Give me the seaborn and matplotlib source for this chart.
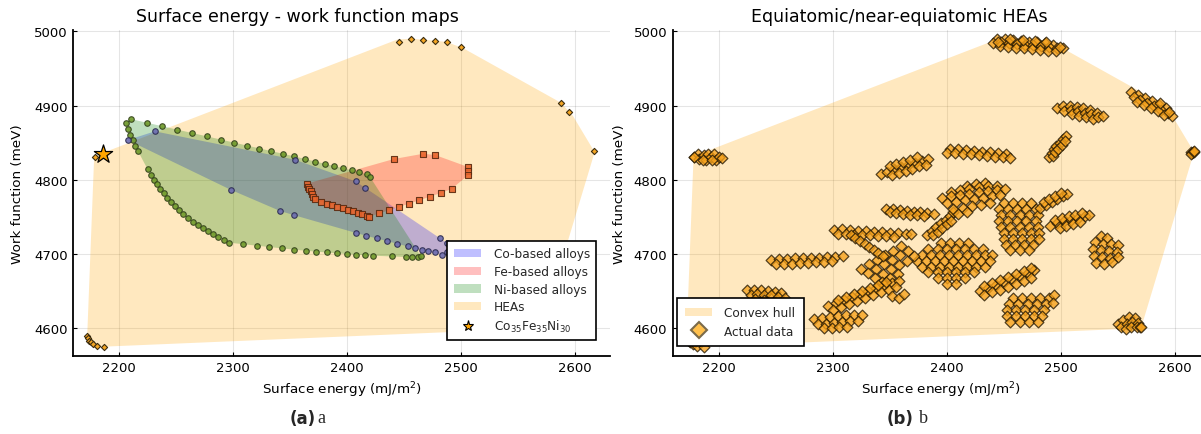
import numpy as np
import pandas as pd
import matplotlib
matplotlib.use("Agg")
import matplotlib.pyplot as plt
import seaborn as sns
from matplotlib.patches import Patch
from matplotlib.lines import Line2D

# ---------------- data: panel (a) ----------------
co_x = [2207.4, 2231.3, 2354.1, 2297.7, 2341.2, 2352.9, 2407.3, 2415.7, 2407.4, 2416.6, 2425.7,
        2434.8, 2443.8, 2452.9, 2459.2, 2465.2, 2471.0, 2476.9, 2482.7, 2487.1, 2481.4, 2487.1]
co_y = [4853.5, 4865.2, 4827.0, 4786.5, 4757.8, 4752.4, 4797.8, 4788.4, 4728.4, 4724.5, 4721.0,
        4717.4, 4714.0, 4710.4, 4708.4, 4705.3, 4703.5, 4702.2, 4699.2, 4703.0, 4721.0, 4714.7]

ni_x = [2205.6, 2210.0, 2207.4, 2209.4, 2211.8, 2214.0, 2216.4, 2224.0, 2237.7, 2250.9, 2264.0,
        2276.7, 2288.9, 2300.6, 2312.0, 2322.8, 2333.3, 2343.8, 2353.5, 2362.9, 2371.9, 2380.4,
        2388.6, 2396.4, 2403.8, 2410.5, 2417.5, 2419.9,
        2224.9, 2227.5, 2230.2, 2232.8, 2235.7, 2238.9, 2241.8, 2245.3, 2248.8, 2252.6, 2256.3,
        2260.3, 2264.4, 2268.8, 2273.1, 2277.8, 2282.2, 2286.8, 2291.6, 2296.5, 2308.5, 2320.5,
        2331.5, 2342.7, 2353.5, 2363.5, 2372.8, 2382.2, 2391.2, 2399.7, 2407.6, 2415.2, 2422.8,
        2438.9, 2451.7, 2456.7, 2461.7, 2464.6]
ni_y = [4876.4, 4881.8, 4868.3, 4860.6, 4853.9, 4845.8, 4838.7, 4876.8, 4872.0, 4867.4, 4862.5,
        4858.5, 4853.9, 4849.9, 4845.8, 4841.8, 4838.3, 4834.6, 4831.5, 4827.9, 4824.3, 4821.1,
        4818.2, 4815.4, 4812.7, 4810.0, 4807.3, 4804.0,
        4814.0, 4806.7, 4800.0, 4793.8, 4787.5, 4781.7, 4775.7, 4770.0, 4764.6, 4759.2, 4754.0,
        4748.4, 4743.4, 4738.9, 4734.5, 4730.5, 4726.8, 4722.8, 4718.7, 4715.1, 4713.4, 4711.1,
        4709.3, 4707.6, 4705.7, 4704.3, 4703.0, 4702.2, 4701.2, 4699.9, 4698.9, 4698.5, 4697.6,
        4696.8, 4695.8, 4695.8, 4695.8, 4696.8]

fe_x = [2364.3, 2365.5, 2366.6, 2367.9, 2369.0, 2370.1, 2371.6, 2377.2, 2381.9, 2386.5, 2391.2,
        2395.9, 2400.3, 2404.7, 2409.1, 2413.1, 2417.5, 2419.3, 2427.5, 2436.3, 2445.3, 2454.1,
        2463.1, 2472.5, 2482.1, 2491.5, 2506.1, 2506.1, 2506.1, 2477.1, 2466.6, 2440.9]
fe_y = [4794.6, 4790.6, 4787.5, 4784.4, 4780.7, 4777.1, 4773.6, 4770.4, 4767.7, 4765.9, 4763.6,
        4761.5, 4759.6, 4757.4, 4755.1, 4753.4, 4751.1, 4750.1, 4754.7, 4759.2, 4763.2, 4767.7,
        4772.2, 4777.1, 4782.1, 4787.5, 4817.1, 4811.7, 4806.3, 4833.3, 4835.0, 4827.9]

hea_x = [2445.4, 2455.9, 2466.7, 2477.2, 2487.4, 2499.4, 2587.4, 2594.7, 2616.6, 2171.9, 2172.8,
         2173.7, 2174.9, 2177.2, 2180.7, 2186.8, 2178.7, 2570.8]
hea_y = [4986.0, 4990.0, 4988.7, 4987.3, 4985.6, 4978.4, 4903.8, 4891.6, 4838.3, 4589.8, 4586.3,
         4583.0, 4580.9, 4578.6, 4576.3, 4575.0, 4831.0, 4601.4]

star_x = [2185.4]
star_y = [4835.0]

# ---------------- data: panel (b), clusters of equiatomic HEAs ----------------
eq_left = [(2178, 4831), (2182, 4834), (2183, 4828), (2187, 4833), (2189, 4827), (2191, 4835),
           (2193, 4830), (2196, 4834), (2198, 4827), (2200, 4831), (2203, 4829), (2186, 4826),
           (2194, 4826)]
eq_top = [(2444, 4989), (2451, 4989), (2458, 4988), (2465, 4987), (2472, 4986), (2479, 4985),
          (2486, 4984), (2493, 4982), (2441, 4984), (2448, 4985), (2455, 4984), (2462, 4983),
          (2469, 4982), (2476, 4981), (2483, 4980), (2490, 4979), (2497, 4978), (2502, 4977),
          (2447, 4980), (2454, 4979), (2461, 4978), (2468, 4977), (2475, 4976), (2482, 4975),
          (2489, 4974), (2496, 4973)]
eq_ne = [(2562, 4918), (2568, 4914), (2574, 4910), (2580, 4906), (2586, 4901), (2592, 4896),
         (2564, 4911), (2570, 4907), (2576, 4903), (2582, 4899), (2588, 4894), (2594, 4890),
         (2598, 4886), (2567, 4905), (2573, 4901), (2579, 4897), (2585, 4892), (2591, 4887)]
eq_far = [(2614, 4837), (2615, 4836), (2616, 4838), (2614, 4835), (2617, 4837)]
eq_oval = [(2497, 4897), (2502, 4899), (2503, 4893), (2508, 4900), (2509, 4894), (2510, 4888),
           (2514, 4898), (2515, 4892), (2516, 4886), (2520, 4896), (2521, 4890), (2522, 4884),
           (2526, 4894), (2527, 4888), (2528, 4882), (2532, 4890), (2533, 4885), (2537, 4886)]
eq_arc = [(2490, 4831), (2492, 4836), (2494, 4841), (2496, 4845), (2499, 4850), (2502, 4855),
          (2505, 4859), (2493, 4832), (2495, 4837), (2498, 4842), (2501, 4847), (2504, 4852)]
eq_b84 = [(2403, 4841), (2410, 4841), (2417, 4840), (2424, 4839), (2431, 4838), (2438, 4837),
          (2445, 4836), (2452, 4834), (2400, 4836), (2407, 4836), (2414, 4835), (2421, 4834),
          (2428, 4833), (2435, 4832), (2442, 4831), (2449, 4830), (2456, 4829)]
eq_tilt = [(2342, 4808), (2348, 4811), (2354, 4814), (2360, 4817), (2366, 4820), (2372, 4823),
           (2378, 4825), (2384, 4828), (2350, 4818), (2356, 4821), (2362, 4824), (2368, 4827),
           (2374, 4830), (2352, 4806), (2358, 4809), (2364, 4812), (2370, 4815), (2376, 4818),
           (2382, 4820)]
eq_b76 = [(2347, 4761), (2353, 4760), (2359, 4759), (2365, 4758), (2371, 4757), (2377, 4756),
          (2383, 4755), (2389, 4754), (2350, 4756), (2356, 4755), (2362, 4754), (2368, 4753),
          (2374, 4752), (2380, 4751)]
eq_diag = [(2383, 4726), (2387, 4731), (2391, 4736), (2395, 4741), (2399, 4746), (2403, 4751),
           (2406, 4756), (2388, 4725), (2392, 4730), (2396, 4735), (2400, 4740), (2404, 4745)]
eq_big = [(2418, 4792), (2426, 4794), (2434, 4795),
          (2404, 4784), (2412, 4786), (2420, 4788), (2428, 4790), (2436, 4791), (2444, 4792),
          (2396, 4776), (2404, 4778), (2412, 4780), (2420, 4781), (2428, 4783), (2436, 4785),
          (2444, 4786), (2451, 4788),
          (2400, 4768), (2408, 4770), (2416, 4772), (2424, 4774), (2432, 4776), (2440, 4778),
          (2447, 4780),
          (2406, 4760), (2414, 4762), (2422, 4764), (2430, 4766), (2438, 4769),
          (2410, 4754), (2418, 4756)]
eq_blob = [(2450, 4768), (2458, 4768), (2466, 4768), (2474, 4768),
           (2446, 4760), (2454, 4760), (2462, 4760), (2470, 4760), (2478, 4760),
           (2448, 4752), (2456, 4752), (2464, 4752), (2472, 4752), (2480, 4752),
           (2446, 4744), (2454, 4744), (2462, 4744), (2470, 4744), (2478, 4744),
           (2448, 4736), (2456, 4736), (2464, 4736), (2472, 4736), (2480, 4736),
           (2450, 4728), (2458, 4728), (2466, 4728), (2474, 4728), (2481, 4728),
           (2450, 4720), (2458, 4720), (2466, 4720), (2474, 4720), (2481, 4720),
           (2452, 4712), (2460, 4712), (2468, 4712), (2476, 4712),
           (2456, 4705), (2464, 4705), (2472, 4705),
           (2482, 4762), (2487, 4766), (2492, 4770), (2497, 4774), (2502, 4778), (2506, 4781),
           (2485, 4770), (2490, 4774), (2495, 4778), (2500, 4782)]
eq_b74 = [(2491, 4738), (2497, 4741), (2503, 4744), (2509, 4746), (2515, 4749), (2521, 4751),
          (2525, 4753), (2495, 4746), (2501, 4749), (2507, 4751), (2513, 4753), (2519, 4755),
          (2499, 4735), (2505, 4738), (2511, 4740), (2517, 4743)]
eq_sq = [(2535, 4724), (2541, 4722), (2530, 4716), (2537, 4714), (2544, 4713), (2550, 4712),
         (2528, 4706), (2535, 4705), (2542, 4704), (2549, 4703), (2529, 4697), (2536, 4696),
         (2543, 4695), (2550, 4696), (2531, 4688), (2538, 4687), (2545, 4689)]
eq_sm = [(2550, 4606), (2555, 4611), (2560, 4615), (2565, 4613), (2553, 4601), (2558, 4605),
         (2563, 4608), (2568, 4607), (2557, 4599), (2562, 4602), (2567, 4602), (2570, 4601)]
eq_low = [(2458, 4640), (2466, 4640), (2474, 4640), (2482, 4640), (2490, 4641), (2494, 4645),
          (2455, 4632), (2463, 4632), (2471, 4632), (2479, 4632), (2487, 4632), (2493, 4634),
          (2453, 4624), (2461, 4624), (2469, 4624), (2477, 4624), (2485, 4624),
          (2453, 4616), (2461, 4616), (2469, 4616), (2477, 4616), (2484, 4616),
          (2456, 4608), (2464, 4608), (2472, 4608), (2480, 4608)]
eq_mid = [(2429, 4650), (2436, 4654), (2443, 4658), (2450, 4662), (2457, 4666), (2464, 4670),
          (2471, 4674), (2477, 4678), (2433, 4657), (2440, 4661), (2447, 4665), (2454, 4669),
          (2461, 4673), (2468, 4677), (2474, 4681), (2433, 4644), (2440, 4648), (2447, 4652),
          (2454, 4656), (2461, 4660), (2468, 4664), (2474, 4668)]
eq_b73 = [(2301, 4732), (2308, 4733), (2315, 4732), (2322, 4731), (2329, 4731), (2336, 4730),
          (2343, 4729), (2350, 4728), (2357, 4728), (2364, 4727), (2369, 4727), (2305, 4727),
          (2312, 4727), (2319, 4726), (2326, 4726), (2333, 4725), (2340, 4724), (2347, 4724),
          (2354, 4723)]
eq_b69 = [(2246, 4692), (2253, 4693), (2260, 4693), (2267, 4694), (2274, 4694), (2281, 4695),
          (2288, 4695), (2295, 4696), (2302, 4696), (2309, 4697), (2250, 4686), (2257, 4687),
          (2264, 4687), (2271, 4688), (2278, 4688), (2285, 4689), (2292, 4689), (2299, 4690)]
eq_b65 = [(2225, 4651), (2231, 4652), (2237, 4651), (2243, 4650), (2249, 4649), (2255, 4647),
          (2228, 4645), (2234, 4646), (2240, 4645), (2246, 4644), (2252, 4642), (2258, 4641),
          (2232, 4639), (2240, 4638)]
eq_core = [(2395, 4715), (2403, 4715), (2411, 4715), (2419, 4715),
           (2384, 4707), (2392, 4707), (2400, 4707), (2408, 4707), (2416, 4707), (2424, 4707),
           (2432, 4707),
           (2378, 4699), (2386, 4699), (2394, 4699), (2402, 4699), (2410, 4699), (2418, 4699),
           (2426, 4699), (2434, 4699), (2440, 4699),
           (2374, 4691), (2382, 4691), (2390, 4691), (2398, 4691), (2406, 4691), (2414, 4691),
           (2422, 4691), (2430, 4691), (2438, 4691),
           (2378, 4683), (2386, 4683), (2394, 4683), (2402, 4683), (2410, 4683), (2418, 4683),
           (2426, 4683), (2434, 4683),
           (2384, 4675), (2392, 4675), (2400, 4675), (2408, 4675), (2416, 4675), (2424, 4675),
           (2392, 4667), (2400, 4667), (2408, 4667), (2416, 4667),
           (2400, 4659), (2408, 4659)]
eq_arm = [(2325, 4680), (2332, 4686), (2339, 4692), (2346, 4698), (2353, 4704), (2360, 4710),
          (2331, 4674), (2338, 4680), (2345, 4686), (2352, 4692), (2359, 4698), (2366, 4704),
          (2337, 4667), (2344, 4673), (2351, 4679), (2358, 4685), (2365, 4691), (2371, 4697),
          (2343, 4662), (2350, 4667), (2357, 4673)]
eq_stem = [(2316, 4725), (2320, 4721), (2324, 4717), (2328, 4713), (2332, 4709), (2336, 4705),
           (2340, 4701), (2344, 4697)]
eq_long = [(2296, 4630), (2303, 4634), (2310, 4638), (2317, 4642), (2324, 4646), (2331, 4650),
           (2338, 4654), (2345, 4658), (2352, 4661), (2358, 4664),
           (2300, 4624), (2307, 4628), (2314, 4632), (2321, 4636), (2328, 4640), (2335, 4644),
           (2342, 4648), (2349, 4652), (2356, 4655),
           (2305, 4638), (2312, 4642), (2319, 4646), (2326, 4650), (2333, 4654), (2340, 4658),
           (2347, 4662)]
eq_base = [(2284, 4612), (2291, 4614), (2298, 4615), (2305, 4616), (2312, 4617), (2319, 4617),
           (2326, 4617), (2287, 4605), (2294, 4606), (2301, 4607), (2308, 4608), (2315, 4609),
           (2322, 4609), (2292, 4600), (2299, 4600), (2306, 4601), (2313, 4602)]
eq_light = [(2352, 4643), (2358, 4641), (2363, 4646)]

eq_clusters = [eq_left, eq_top, eq_ne, eq_far, eq_oval, eq_arc, eq_b84, eq_tilt, eq_b76, eq_diag,
               eq_big, eq_blob, eq_b74, eq_sq, eq_sm, eq_low, eq_mid, eq_b73, eq_b69, eq_b65,
               eq_core, eq_arm, eq_stem, eq_long, eq_base, eq_light]

# ---------------- helpers ----------------
def convex_hull(xs, ys):
    pts = sorted(set(zip(xs, ys)))
    def cross(o, a, b):
        return (a[0] - o[0]) * (b[1] - o[1]) - (a[1] - o[1]) * (b[0] - o[0])
    lower, upper = [], []
    for p in pts:
        while len(lower) >= 2 and cross(lower[-2], lower[-1], p) <= 0:
            lower.pop()
        lower.append(p)
    for p in reversed(pts):
        while len(upper) >= 2 and cross(upper[-2], upper[-1], p) <= 0:
            upper.pop()
        upper.append(p)
    h = np.array(lower[:-1] + upper[:-1])
    return h[:, 0], h[:, 1]

eq_x = [p[0] for c in eq_clusters for p in c] + hea_x
eq_y = [p[1] for c in eq_clusters for p in c] + hea_y
eq_df = pd.DataFrame({"x": eq_x, "y": eq_y})

hull_x, hull_y = convex_hull(eq_x, eq_y)
co_hx, co_hy = convex_hull(co_x, co_y)
fe_hx, fe_hy = convex_hull(fe_x, fe_y)
ni_hx, ni_hy = convex_hull(ni_x, ni_y)

# ---------------- style ----------------
sns.set_theme(style="white")
plt.rcParams["font.family"] = ["DejaVu Sans"]
plt.rcParams["mathtext.fontset"] = "dejavusans"

W, H = 1201, 435
fig = plt.figure(figsize=(W / 100, H / 100), dpi=100)
axL = fig.add_axes([73.3 / W, 1 - 356.7 / H, 536.6 / W, 325.7 / H])
axR = fig.add_axes([672.7 / W, 1 - 356.7 / H, 536.6 / W, 325.7 / H])

ORANGE = "#FFA500"

def style(ax, ylab_x):
    ax.set_xlim(2159.7, 2630.4)
    ax.set_ylim(4562.8, 5001.8)
    ax.set_xticks([2200, 2300, 2400, 2500, 2600])
    ax.set_yticks([4600, 4700, 4800, 4900, 5000])
    ax.grid(True, color="black", alpha=0.1, lw=0.8)
    ax.set_axisbelow(True)
    for s in ["top", "right"]:
        ax.spines[s].set_visible(False)
    for s in ["left", "bottom"]:
        ax.spines[s].set_color("black")
        ax.spines[s].set_linewidth(1.3)
    ax.tick_params(direction="in", length=3, width=0.8, labelsize=9.5, pad=4,
                   colors="black", left=True, bottom=True)
    ax.set_xlabel("Surface energy (mJ/m$^2$)", fontsize=9.7, color="black")
    ax.xaxis.set_label_coords(0.5, -0.072)
    ax.set_ylabel("Work function (meV)", fontsize=9.7, color="black")
    ax.yaxis.set_label_coords(ylab_x, 0.5)

# ---------------- panel (a) ----------------
axL.fill(hull_x, hull_y, color=ORANGE, alpha=0.25, lw=0, zorder=1)
axL.fill(co_hx, co_hy, color="blue", alpha=0.25, lw=0, zorder=1.1)
axL.fill(fe_hx, fe_hy, color="red", alpha=0.25, lw=0, zorder=1.2)
axL.fill(ni_hx, ni_hy, color="green", alpha=0.25, lw=0, zorder=1.3)

sns.scatterplot(x=hea_x, y=hea_y, ax=axL, marker="D", s=10, color="#F5A623",
                edgecolor="#3a2c10", linewidth=0.8, zorder=3, legend=False)
sns.scatterplot(x=ni_x, y=ni_y, ax=axL, marker="o", s=16, color="#6F9A2A",
                edgecolor="#34421c", linewidth=0.8, alpha=0.9, zorder=3, legend=False)
sns.scatterplot(x=co_x, y=co_y, ax=axL, marker="o", s=16, color="#6B6BB0",
                edgecolor="#2c2c50", linewidth=0.8, alpha=0.9, zorder=3.1, legend=False)
sns.scatterplot(x=fe_x, y=fe_y, ax=axL, marker="s", s=15, color="#E8642C",
                edgecolor="#5a2a10", linewidth=0.8, alpha=0.9, zorder=3.2, legend=False)
sns.scatterplot(x=star_x, y=star_y, ax=axL, marker="*", s=190, color=ORANGE,
                edgecolor="black", linewidth=0.9, zorder=4, legend=False)

style(axL, -0.091)

hL = [Patch(facecolor="blue", alpha=0.25, edgecolor="none", label="Co-based alloys"),
      Patch(facecolor="red", alpha=0.25, edgecolor="none", label="Fe-based alloys"),
      Patch(facecolor="green", alpha=0.25, edgecolor="none", label="Ni-based alloys"),
      Patch(facecolor=ORANGE, alpha=0.25, edgecolor="none", label="HEAs"),
      Line2D([], [], ls="none", marker="*", markersize=8, mfc=ORANGE, mec="black", mew=0.8,
             label="Co$_{35}$Fe$_{35}$Ni$_{30}$")]
legL = axL.legend(handles=hL, loc="upper left", bbox_to_anchor=(0.6965, 0.353),
                  fontsize=8.7, frameon=True, fancybox=False, framealpha=1,
                  borderpad=0.55, labelspacing=0.38, handlelength=2.3, handletextpad=1.0,
                  borderaxespad=0)
legL.get_frame().set_edgecolor("black")
legL.get_frame().set_linewidth(1.2)
legL.set_zorder(10)

# ---------------- panel (b) ----------------
axR.fill(hull_x, hull_y, color=ORANGE, alpha=0.25, lw=0, zorder=1)
sns.scatterplot(data=eq_df, x="x", y="y", ax=axR, marker="D", s=30, color="#F7A21B",
                edgecolor="#241803", linewidth=0.9, alpha=0.78, zorder=3, legend=False)
style(axR, -0.087)

hR = [Patch(facecolor=ORANGE, alpha=0.25, edgecolor="none", label="Convex hull"),
      Line2D([], [], ls="none", marker="D", markersize=8, mfc="#FFC04D", mec="#7a6a4a",
             mew=1.5, label="Actual data")]
legR = axR.legend(handles=hR, loc="upper left", bbox_to_anchor=(0.008, 0.178),
                  fontsize=8.7, frameon=True, fancybox=False, framealpha=1,
                  borderpad=0.7, labelspacing=0.45, handlelength=2.2, handletextpad=1.0,
                  borderaxespad=0)
legR.get_frame().set_edgecolor("black")
legR.get_frame().set_linewidth(1.2)
legR.set_zorder(10)

# ---------------- titles and captions ----------------
fig.text(297 / W, 1 - 17 / H, "Surface energy - work function maps", ha="center", va="center",
         fontsize=12.5, color="black")
fig.text(899 / W, 1 - 17 / H, "Equiatomic/near-equiatomic HEAs", ha="center", va="center",
         fontsize=12.5, color="black")
fig.text(290 / W, 1 - 419 / H, "(a)", ha="left", va="center", fontsize=12, fontweight="bold")
fig.text(317 / W, 1 - 419 / H, "a", ha="left", va="center", fontsize=13,
         family=["Liberation Serif", "DejaVu Serif"])
fig.text(887 / W, 1 - 419 / H, "(b)", ha="left", va="center", fontsize=12, fontweight="bold")
fig.text(919 / W, 1 - 419 / H, "b", ha="left", va="center", fontsize=13,
         family=["Liberation Serif", "DejaVu Serif"])

fig.savefig("out.png", dpi=100)
